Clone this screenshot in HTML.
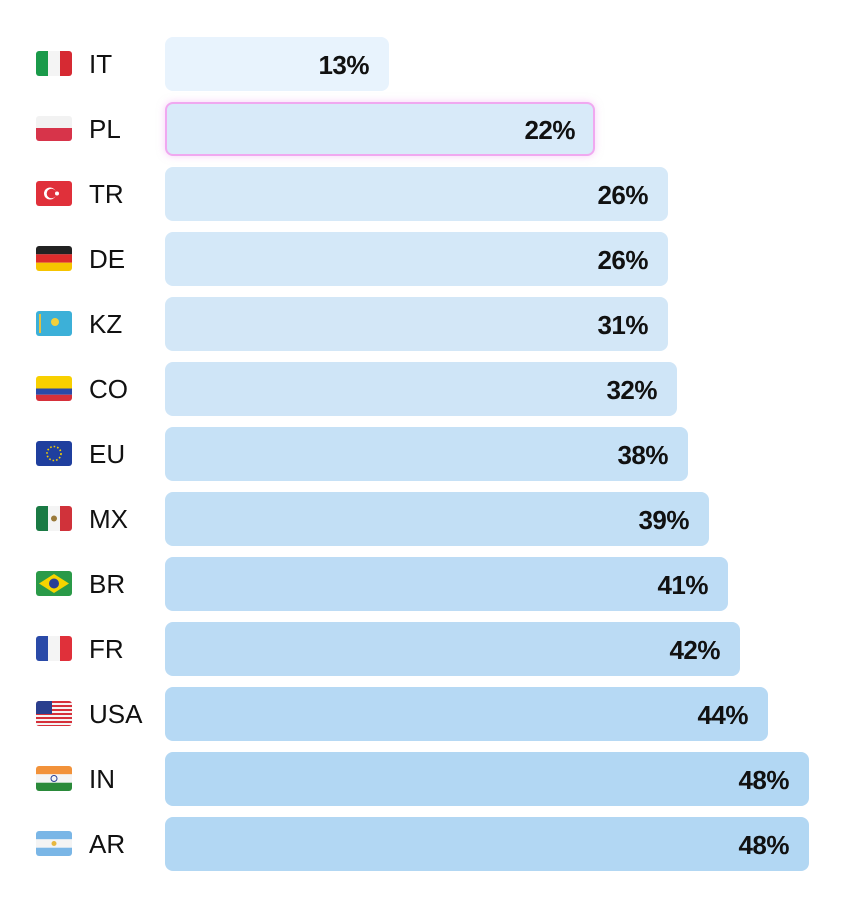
<!DOCTYPE html>
<html><head><meta charset="utf-8"><style>
html,body{margin:0;padding:0;background:#fff;width:857px;height:907px;overflow:hidden}
.row{position:absolute;left:0;height:54px;width:857px}
.flag{position:absolute;left:36px;top:14px;width:36px;height:25px;border-radius:3px;overflow:hidden}
.lab{position:absolute;left:89px;top:0;font:26px "Liberation Sans",sans-serif;line-height:54px;color:#111}
.bar{position:absolute;left:165px;top:0;height:54px;border-radius:8px;box-sizing:border-box}
.pct{position:absolute;right:20px;top:0;font:bold 26px "Liberation Sans",sans-serif;line-height:56px;color:#111;letter-spacing:-0.5px}
</style></head><body>
<div class="row" style="top:37px"><div class="flag"><svg width="36" height="25"><rect width="12" height="25" fill="#1a9a4a"/><rect x="12" width="12" height="25" fill="#f4f4f4"/><rect x="24" width="12" height="25" fill="#d62a33"/></svg></div><div class="lab">IT</div><div class="bar" style="width:224px;background:#e8f3fd"><span class="pct">13%</span></div></div>
<div class="row" style="top:102px"><div class="flag"><svg width="36" height="25"><rect width="36" height="12" fill="#f2f2f2"/><rect y="12" width="36" height="13" fill="#d7344a"/></svg></div><div class="lab">PL</div><div class="bar" style="width:430px;background:#d8eaf9;border:2px solid #f0a8f0;box-shadow:0 0 8px rgba(240,160,240,0.5)"><span class="pct" style="right:18px;line-height:52px">22%</span></div></div>
<div class="row" style="top:167px"><div class="flag"><svg width="36" height="25"><rect width="36" height="25" fill="#e0303a"/><circle cx="14" cy="12.5" r="6" fill="#fff"/><circle cx="15.5" cy="12.5" r="4.8" fill="#e0303a"/><circle cx="21" cy="12.5" r="2" fill="#fff"/></svg></div><div class="lab">TR</div><div class="bar" style="width:503px;background:#d6e9f8"><span class="pct">26%</span></div></div>
<div class="row" style="top:232px"><div class="flag"><svg width="36" height="25"><rect width="36" height="8.3" fill="#222"/><rect y="8.3" width="36" height="8.4" fill="#dd2c2c"/><rect y="16.7" width="36" height="8.3" fill="#f6c400"/></svg></div><div class="lab">DE</div><div class="bar" style="width:503px;background:#d4e8f8"><span class="pct">26%</span></div></div>
<div class="row" style="top:297px"><div class="flag"><svg width="36" height="25"><rect width="36" height="25" fill="#3cb0d8"/><circle cx="19" cy="11" r="4" fill="#f4d03a"/><rect x="3" y="3" width="2" height="19" fill="#e5c040"/></svg></div><div class="lab">KZ</div><div class="bar" style="width:503px;background:#d3e7f7"><span class="pct">31%</span></div></div>
<div class="row" style="top:362px"><div class="flag"><svg width="36" height="25"><rect width="36" height="12.5" fill="#f8d000"/><rect y="12.5" width="36" height="6.25" fill="#2a4aa8"/><rect y="18.75" width="36" height="6.25" fill="#d6303a"/></svg></div><div class="lab">CO</div><div class="bar" style="width:512px;background:#cfe5f7"><span class="pct">32%</span></div></div>
<div class="row" style="top:427px"><div class="flag"><svg width="36" height="25"><rect width="36" height="25" fill="#1f3f9e"/><circle cx="18" cy="12.5" r="7" fill="none" stroke="#f6d000" stroke-width="1.6" stroke-dasharray="1.6 2"/></svg></div><div class="lab">EU</div><div class="bar" style="width:523px;background:#c6e1f6"><span class="pct">38%</span></div></div>
<div class="row" style="top:492px"><div class="flag"><svg width="36" height="25"><rect width="12" height="25" fill="#1a7a44"/><rect x="12" width="12" height="25" fill="#f4f4f4"/><rect x="24" width="12" height="25" fill="#d0323a"/><circle cx="18" cy="12.5" r="3" fill="#9a7a3a"/></svg></div><div class="lab">MX</div><div class="bar" style="width:544px;background:#c2dff5"><span class="pct">39%</span></div></div>
<div class="row" style="top:557px"><div class="flag"><svg width="36" height="25"><rect width="36" height="25" fill="#2a9a48"/><polygon points="18,3 33,12.5 18,22 3,12.5" fill="#f6d400"/><circle cx="18" cy="12.5" r="5" fill="#2a3f95"/></svg></div><div class="lab">BR</div><div class="bar" style="width:563px;background:#bddcf5"><span class="pct">41%</span></div></div>
<div class="row" style="top:622px"><div class="flag"><svg width="36" height="25"><rect width="12" height="25" fill="#2a4aa8"/><rect x="12" width="12" height="25" fill="#f4f4f4"/><rect x="24" width="12" height="25" fill="#e0303a"/></svg></div><div class="lab">FR</div><div class="bar" style="width:575px;background:#bbdbf4"><span class="pct">42%</span></div></div>
<div class="row" style="top:687px"><div class="flag"><svg width="36" height="25"><rect width="36" height="25" fill="#f4f4f4"/><g fill="#d6303a"><rect y="0" width="36" height="2"/><rect y="4" width="36" height="2"/><rect y="8" width="36" height="2"/><rect y="12" width="36" height="2"/><rect y="16" width="36" height="2"/><rect y="20" width="36" height="2"/><rect y="24" width="36" height="1"/></g><rect width="16" height="13" fill="#2a3f8e"/></svg></div><div class="lab">USA</div><div class="bar" style="width:603px;background:#b6d9f4"><span class="pct">44%</span></div></div>
<div class="row" style="top:752px"><div class="flag"><svg width="36" height="25"><rect width="36" height="8.3" fill="#f2923a"/><rect y="8.3" width="36" height="8.4" fill="#f4f4f4"/><rect y="16.7" width="36" height="8.3" fill="#2a8a3a"/><circle cx="18" cy="12.5" r="3" fill="none" stroke="#2a3f95" stroke-width="1"/></svg></div><div class="lab">IN</div><div class="bar" style="width:644px;background:#b2d7f3"><span class="pct">48%</span></div></div>
<div class="row" style="top:817px"><div class="flag"><svg width="36" height="25"><rect width="36" height="8.3" fill="#7ab6e6"/><rect y="8.3" width="36" height="8.4" fill="#f4f4f4"/><rect y="16.7" width="36" height="8.3" fill="#7ab6e6"/><circle cx="18" cy="12.5" r="2.5" fill="#e8b840"/></svg></div><div class="lab">AR</div><div class="bar" style="width:644px;background:#b2d7f3"><span class="pct">48%</span></div></div>
</body></html>
